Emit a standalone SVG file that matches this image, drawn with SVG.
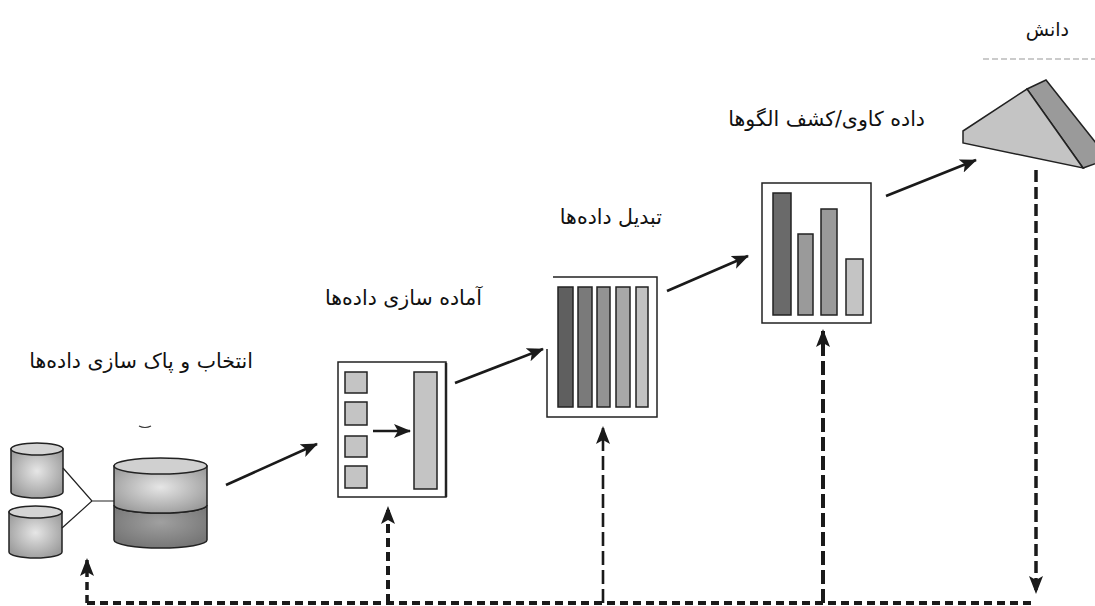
<svg xmlns="http://www.w3.org/2000/svg" width="1095" height="606" viewBox="0 0 1095 606">
  <style>
    .lbl { font-family: "DejaVu Sans", "Noto Sans", sans-serif; font-size: 20.5px; fill: #111; direction: rtl; }
    .box { fill: #fff; stroke: #222; stroke-width: 1.5; }
    .bar { stroke: #222; stroke-width: 1.5; }
    .edge { stroke: #222; stroke-width: 1.2; fill: none; }
    .flow { stroke: #1a1a1a; stroke-width: 2.6; fill: none; marker-end: url(#head); }
    .fb { stroke: #1a1a1a; fill: none; }
  </style>
  <defs>
    <marker id="head" markerUnits="userSpaceOnUse" markerWidth="18" markerHeight="14" refX="16" refY="7" orient="auto">
      <path d="M0,0 L17,7 L0,14 L4,7 Z" fill="#1a1a1a"/>
    </marker>
    <marker id="fbhead" markerUnits="userSpaceOnUse" markerWidth="18" markerHeight="14" refX="16" refY="7" orient="auto">
      <path d="M18,7 L0,0 L4,7 L0,14 Z" fill="#1a1a1a"/>
    </marker>
    <radialGradient id="cylLight" cx="0.5" cy="0.45" r="0.6">
      <stop offset="0" stop-color="#e6e6e6"/>
      <stop offset="1" stop-color="#9c9c9c"/>
    </radialGradient>
    <radialGradient id="cylDark" cx="0.5" cy="0.4" r="0.6">
      <stop offset="0" stop-color="#a0a0a0"/>
      <stop offset="1" stop-color="#777"/>
    </radialGradient>
  </defs>

  <!-- source databases -->
  <g id="sources">
    <path d="M11,449 L11,492 A26,6 0 0 0 63,492 L63,449 Z" fill="url(#cylLight)" stroke="#222" stroke-width="1.5"/>
    <ellipse cx="37" cy="449" rx="26" ry="6" fill="#d4d4d4" stroke="#222" stroke-width="1.5"/>
    <path d="M9,512 L9,552 A26.5,6 0 0 0 62,552 L62,512 Z" fill="url(#cylLight)" stroke="#222" stroke-width="1.5"/>
    <ellipse cx="35.5" cy="512" rx="26.5" ry="6" fill="#d4d4d4" stroke="#222" stroke-width="1.5"/>
    <path class="edge" d="M63,468 L92,501 L62,528 M92,501 L114,501"/>
    <path d="M114,505 A46.5,8 0 0 0 207,505 L207,540 A46.5,8 0 0 1 114,540 Z" fill="url(#cylDark)" stroke="#222" stroke-width="1.5"/>
    <path d="M114,466 L114,505 A46.5,8 0 0 0 207,505 L207,466 Z" fill="url(#cylLight)" stroke="#222" stroke-width="1.5"/>
    <ellipse cx="160.5" cy="466" rx="46.5" ry="8" fill="#d0d0d0" stroke="#222" stroke-width="1.5"/>
    <path d="M139,426 Q145,429 151,426" stroke="#333" stroke-width="1.2" fill="none"/>
    <text class="lbl" x="253" y="368">انتخاب و پاک سازی داده&#x200C;ها</text>
  </g>

  <!-- preprocessing -->
  <g id="preprocess">
    <rect class="box" x="338" y="362" width="108" height="135"/>
    <line x1="446" y1="363" x2="446" y2="497" stroke="#222" stroke-width="2.5"/>
    <rect class="bar" x="345" y="372" width="22" height="21" fill="#c4c4c4"/>
    <rect class="bar" x="345" y="402" width="22" height="23" fill="#c4c4c4"/>
    <rect class="bar" x="345" y="436" width="22" height="21" fill="#c4c4c4"/>
    <rect class="bar" x="345" y="466" width="22" height="22" fill="#c4c4c4"/>
    <rect class="bar" x="414" y="372" width="23" height="117" fill="#c4c4c4"/>
    <line x1="373" y1="431" x2="410" y2="431" class="flow" stroke-width="2.2"/>
    <text class="lbl" x="482" y="305">آماده سازی داده&#x200C;ها</text>
  </g>

  <!-- transformation -->
  <g id="transform">
    <path d="M553,277 L657,277 L657,417 L547,417 L547,349" fill="none" stroke="#222" stroke-width="1.5"/>
    <rect class="bar" x="558" y="287" width="15" height="120" fill="#5f5f5f"/>
    <rect class="bar" x="578" y="287" width="14" height="120" fill="#7a7a7a"/>
    <rect class="bar" x="597" y="287" width="13" height="120" fill="#939393"/>
    <rect class="bar" x="616" y="287" width="14" height="120" fill="#a8a8a8"/>
    <rect class="bar" x="636" y="287" width="12" height="120" fill="#c2c2c2"/>
    <text class="lbl" x="662" y="224">تبدیل داده&#x200C;ها</text>
  </g>

  <!-- data mining -->
  <g id="mining">
    <rect class="box" x="762" y="183" width="109" height="140"/>
    <rect class="bar" x="773" y="193" width="18" height="122" fill="#6a6a6a"/>
    <rect class="bar" x="798" y="234" width="15" height="81" fill="#9a9a9a"/>
    <rect class="bar" x="821" y="209" width="16" height="106" fill="#9a9a9a"/>
    <rect class="bar" x="846" y="259" width="17" height="56" fill="#c4c4c4"/>
    <text class="lbl" x="925" y="126">داده کاوی/کشف الگوها</text>
  </g>

  <!-- knowledge -->
  <g id="knowledge">
    <path d="M1027,89 L1046,80 L1100,148 L1100,162 L1083,168 Z" fill="#9a9a9a" stroke="#222" stroke-width="1.5"/>
    <path d="M963,131 L1027,89 L1083,168 L963,143 Z" fill="#c4c4c4" stroke="#222" stroke-width="1.5"/>
    <line x1="983" y1="59" x2="1095" y2="59" stroke="#bbb" stroke-width="1.5" stroke-dasharray="6,3"/>
    <text class="lbl" x="1069" y="36" style="font-size:19px">دانش</text>
  </g>

  <!-- connectors -->
  <g id="connectors">
    <path class="flow" d="M226,485 L317,444"/>
    <path class="flow" d="M455,383 L543,349"/>
    <path class="flow" d="M667,291 L748,256"/>
    <path class="flow" d="M886,196 L976,160"/>

    <!-- feedback loop -->
    <path class="fb" d="M87,603 L1036,603" stroke-width="4" stroke-dasharray="8,5"/>
    <path class="fb" d="M87,603 L87,560" stroke-width="3.5" stroke-dasharray="8,5" marker-end="url(#fbhead)"/>
    <path class="fb" d="M388,603 L388,508" stroke-width="4" stroke-dasharray="9,5" marker-end="url(#fbhead)"/>
    <path class="fb" d="M603,603 L603,428" stroke-width="2.6" stroke-dasharray="14,5" marker-end="url(#fbhead)"/>
    <path class="fb" d="M823,603 L823,331" stroke-width="4" stroke-dasharray="14,5" marker-end="url(#fbhead)"/>
    <path class="fb" d="M1036,170 L1036,592" stroke-width="3.5" stroke-dasharray="12,5" marker-end="url(#fbhead)"/>
  </g>
</svg>
